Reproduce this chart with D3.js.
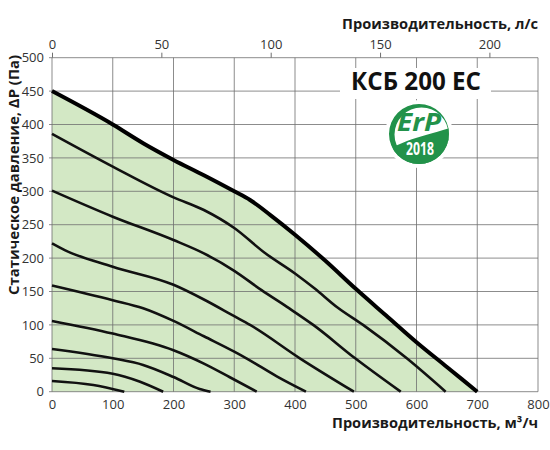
<!DOCTYPE html>
<html>
<head>
<meta charset="utf-8">
<script src="https://cdn.jsdelivr.net/npm/d3@7"></script>
<style>
  body { margin: 0; background: #fff; }
  svg { display: block; font-family: 'Open Sans', sans-serif; }
</style>
</head>
<body>
<div id="chart"></div>
<script>
// fan curves: [airflow m3/h, static pressure Pa]
const maxCurve = [[0, 450], [100, 400], [150, 372], [200, 347], [250, 324], [300, 300], [326, 287], [360, 264], [400, 235], [450, 196], [500, 154], [550, 114], [600, 74], [650, 37], [700, 0]]
const curve1 = [[0, 386], [100, 337], [200, 291], [250, 272], [300, 245], [350, 208], [400, 177], [433, 154], [470, 126], [512, 100], [584, 50], [648, 0]]
const curve2 = [[0, 301], [100, 262], [200, 227], [250, 207], [300, 181], [345, 152], [390, 125], [430, 100], [499, 50], [574, 0]]
const curve3 = [[0, 222], [21, 212], [100, 187], [200, 160], [250, 138], [300, 113], [326, 100], [408, 50], [497, 0]]
const curve4 = [[0, 159], [100, 137], [150, 125], [200, 106], [250, 83], [300, 60], [320, 50], [370, 23], [418, 0]]
const curve5 = [[0, 106], [100, 87], [200, 62], [250, 42], [292, 22], [337, 0]]
const curve6 = [[0, 64], [100, 50], [150, 40], [200, 22], [243, 4], [261, 0]]
const curve7 = [[0, 35], [100, 27], [145, 15], [183, 0]]
const curve8 = [[0, 16], [68, 10], [119, 0]]
const thinCurves = [curve1, curve2, curve3, curve4, curve5, curve6, curve7, curve8]

const xTicks = [0, 100, 200, 300, 400, 500, 600, 700, 800]
const yTicks = [0, 50, 100, 150, 200, 250, 300, 350, 400, 450, 500]
const lsTicks = [0, 50, 100, 150, 200]

const model = 'КСБ 200 ЕС'
const width = 550
const height = 450
const margin = {left: 52, right: 12, top: 57.7, bottom: 58.3}

const svg = d3.select('#chart')
  .append('svg')
  .attr('width', width)
  .attr('height', height)

const x = d3.scaleLinear()
  .domain([0, 800])
  .range([margin.left, width - margin.right])
const y = d3.scaleLinear()
  .domain([0, 500])
  .range([height - margin.bottom, margin.top])
// l/s = m3/h / 3.6
const xLs = d3.scaleLinear()
  .domain([0, 800 / 3.6])
  .range(x.range())

const line = d3.line()
  .x(d => x(d[0]))
  .y(d => y(d[1]))
  .curve(d3.curveMonotoneX)
const area = d3.area()
  .x(d => x(d[0]))
  .y0(y(0))
  .y1(d => y(d[1]))
  .curve(d3.curveMonotoneX)

// working zone
svg.append('path')
  .attr('d', area(maxCurve))
  .attr('fill', '#d3e8c5')

// grid
svg.append('g')
  .selectAll('line')
  .data(xTicks)
  .enter()
  .append('line')
  .attr('x1', d => x(d))
  .attr('x2', d => x(d))
  .attr('y1', y(500))
  .attr('y2', y(0))
  .attr('stroke', '#6f6f6f')
  .attr('stroke-opacity', 0.8)
svg.append('g')
  .selectAll('line')
  .data(yTicks)
  .enter()
  .append('line')
  .attr('x1', x(0) - 3)
  .attr('x2', x(800))
  .attr('y1', d => y(d))
  .attr('y2', d => y(d))
  .attr('stroke', '#6f6f6f')
  .attr('stroke-opacity', 0.8)

// axes
const fmt = d3.format('d')
svg.append('g')
  .attr('transform', `translate(0,${y(0)})`)
  .call(d3.axisBottom(x).tickValues(xTicks).tickSize(0).tickPadding(8).tickFormat(fmt))
svg.append('g')
  .attr('transform', `translate(${x(0)},0)`)
  .call(d3.axisLeft(y).tickValues(yTicks).tickSize(0).tickPadding(8).tickFormat(fmt))
svg.append('g')
  .attr('transform', `translate(0,${y(500)})`)
  .call(d3.axisTop(xLs).tickValues(lsTicks).tickSize(5).tickPadding(4).tickFormat(fmt))
svg.selectAll('.domain').remove()
svg.selectAll('.tick text')
  .attr('font-size', 13)
  .attr('fill', '#333')
  .attr('font-family', "'Open Sans', sans-serif")
svg.selectAll('.tick line')
  .attr('stroke', '#6f6f6f')

// curves
svg.append('g')
  .selectAll('path')
  .data(thinCurves)
  .enter()
  .append('path')
  .attr('d', line)
  .attr('fill', 'none')
  .attr('stroke', '#111')
  .attr('stroke-width', 2.6)
svg.append('path')
  .attr('d', line(maxCurve))
  .attr('fill', 'none')
  .attr('stroke', '#000')
  .attr('stroke-width', 4)

// titles
svg.append('text')
  .attr('x', x(800))
  .attr('y', 29)
  .attr('text-anchor', 'end')
  .attr('font-size', 15)
  .attr('font-weight', 'bold')
  .attr('fill', '#1a1a1a')
  .attr('textLength', 196)
  .attr('lengthAdjust', 'spacingAndGlyphs')
  .text('Производительность, л/с')
svg.append('text')
  .attr('x', x(800))
  .attr('y', 428)
  .attr('text-anchor', 'end')
  .attr('font-size', 15)
  .attr('font-weight', 'bold')
  .attr('fill', '#1a1a1a')
  .attr('textLength', 206)
  .attr('lengthAdjust', 'spacingAndGlyphs')
  .text('Производительность, м³/ч')
svg.append('text')
  .attr('transform', 'translate(19,55)rotate(-90)')
  .attr('text-anchor', 'end')
  .attr('font-size', 15)
  .attr('font-weight', 'bold')
  .attr('fill', '#1a1a1a')
  .attr('textLength', 240)
  .attr('lengthAdjust', 'spacingAndGlyphs')
  .text('Статическое давление, ΔP (Па)')

// model name
svg.append('rect')
  .attr('x', 340)
  .attr('y', 68)
  .attr('width', 151)
  .attr('height', 31)
  .attr('fill', '#fff')
svg.append('text')
  .attr('x', 416)
  .attr('y', 90)
  .attr('text-anchor', 'middle')
  .attr('font-size', 25)
  .attr('font-weight', 'bold')
  .attr('fill', '#111')
  .attr('textLength', 130)
  .attr('lengthAdjust', 'spacingAndGlyphs')
  .text(model)

// ErP badge
const cx = 419
const cy = 134
const r = 30
const green = '#22924a'
const circ = (ox, oy, rr) => `M${ox - rr},${oy}a${rr},${rr} 0 1,0 ${2 * rr},0a${rr},${rr} 0 1,0 ${-2 * rr},0Z`
const logo = svg.append('g')
logo.append('clipPath')
  .attr('id', 'badge-clip')
  .append('circle')
  .attr('cx', cx)
  .attr('cy', cy)
  .attr('r', r)
logo.append('circle')
  .attr('cx', cx)
  .attr('cy', cy)
  .attr('r', r + 4)
  .attr('fill', '#fff')
// ring, thicker on the left
logo.append('path')
  .attr('d', circ(cx, cy, r) + circ(cx + 2.5, cy + 0.5, r - 3))
  .attr('fill-rule', 'evenodd')
  .attr('fill', green)
// leaf in the lower part
logo.append('path')
  .attr('clip-path', 'url(#badge-clip)')
  .attr('d', `M${cx + 34},${cy - 7}C${cx + 16},${cy - 1} ${cx + 2},${cy + 2} ${cx - 12},${cy + 7}Q${cx - 22},${cy + 11} ${cx - 34},${cy + 17}L${cx - 34},${cy + 40}L${cx + 34},${cy + 40}Z`)
  .attr('fill', green)
logo.append('text')
  .attr('x', cx)
  .attr('y', cy - 3)
  .attr('text-anchor', 'middle')
  .attr('font-size', 25)
  .attr('font-weight', 'bold')
  .attr('font-style', 'italic')
  .attr('fill', green)
  .attr('textLength', 44)
  .attr('lengthAdjust', 'spacingAndGlyphs')
  .text('ErP')
logo.append('text')
  .attr('x', cx + 1)
  .attr('y', cy + 21)
  .attr('text-anchor', 'middle')
  .attr('font-size', 18)
  .attr('font-weight', 'bold')
  .attr('fill', '#fff')
  .attr('textLength', 28)
  .attr('lengthAdjust', 'spacingAndGlyphs')
  .text('2018')
</script>
</body>
</html>
